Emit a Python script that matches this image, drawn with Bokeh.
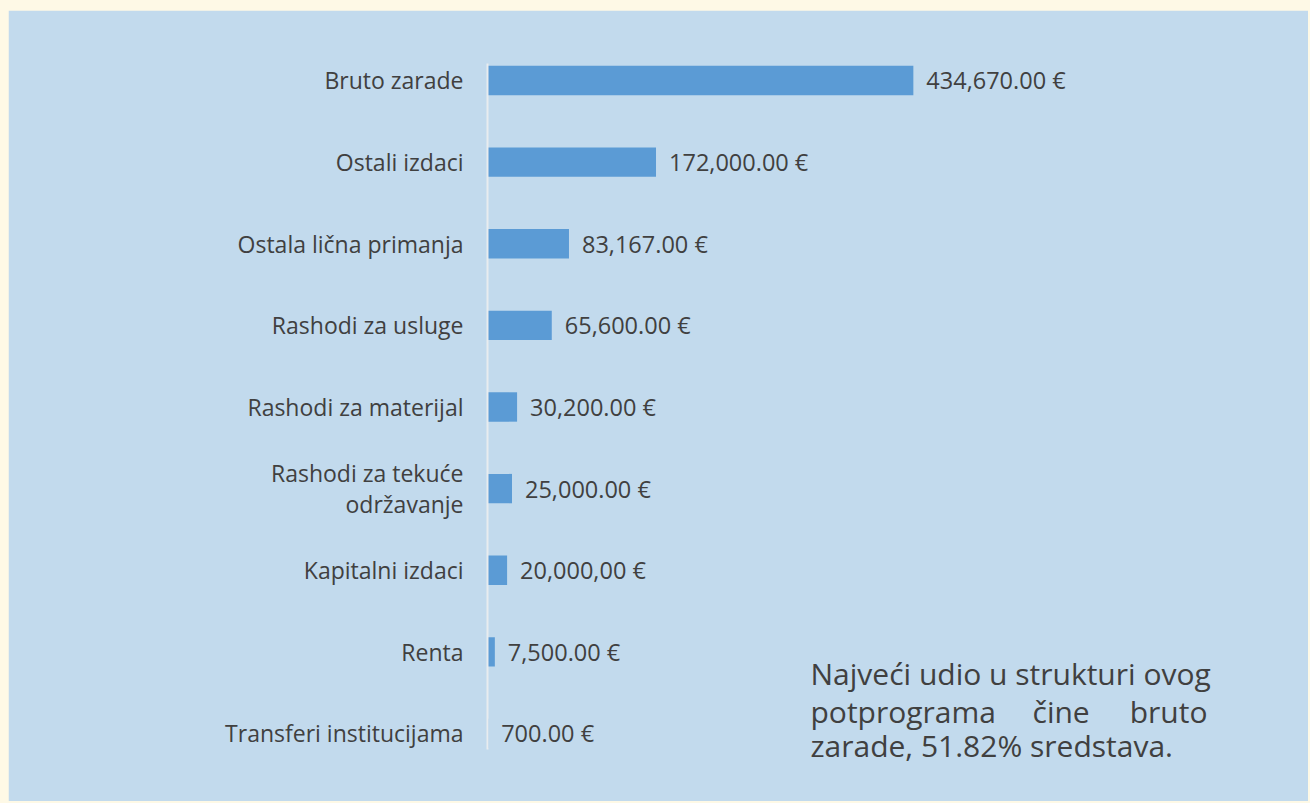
from bokeh.plotting import figure
from bokeh.models import Range1d, FixedTicker, ColumnDataSource, Label
from bokeh.core.properties import value
from bokeh.embed import file_html
from bokeh.resources import INLINE

categories = ["Bruto zarade", "Ostali izdaci", "Ostala lična primanja", "Rashodi za usluge",
              "Rashodi za materijal", "Rashodi za tekuće\nodržavanje", "Kapitalni izdaci",
              "Renta", "Transferi institucijama"]
amounts = [434670, 172000, 83167, 65600, 30200, 25000, 20000, 7500, 700]
value_labels = ["434,670.00 €", "172,000.00 €", "83,167.00 €", "65,600.00 €", "30,200.00 €",
                "25,000.00 €", "20,000,00 €", "7,500.00 €", "700.00 €"]
note_lines = ["Najveći udio u strukturi ovog", "potprograma", "čine", "bruto",
              "zarade, 51.82% sredstava."]

FONT = "Open Sans"
PANEL = "#c2daed"
CREAM = "#fef9e6"
TXT = "#404040"
BAR = "#5b9bd5"

pos = list(range(len(categories)))
src = ColumnDataSource(dict(y=pos, v=amounts, lab=value_labels))

W, H = 1300, 791
p = figure(width=W, height=H, output_backend="svg", toolbar_location=None,
           x_range=Range1d(0, 838000), y_range=Range1d(8.76, -0.208),
           min_border_left=479, min_border_right=0, min_border_top=53, min_border_bottom=6)
p.background_fill_color = PANEL
p.border_fill_color = PANEL
p.outline_line_color = PANEL
p.outline_line_width = 2
p.xgrid.visible = False
p.ygrid.visible = False
p.xaxis.visible = False

ax = p.yaxis[0]
ax.ticker = FixedTicker(ticks=pos)
ax.bounds = (-0.208, 8.196)
ax.major_label_overrides = {i: c for i, c in zip(pos, categories)}
ax.major_tick_line_color = None
ax.minor_tick_line_color = None
ax.axis_line_color = "#e8ecef"
ax.axis_line_width = 2
ax.major_label_text_font = FONT
ax.major_label_text_font_size = "23px"
ax.major_label_text_line_height = 0.95
ax.major_label_text_color = TXT
ax.major_label_standoff = 18

p.hbar(y="y", left=0, right="v", height=0.36, source=src, fill_color=BAR, line_color=None)
p.text(x="v", y="y", text="lab", source=src, x_offset=13, text_baseline="middle",
       text_align="left", text_font=value(FONT), text_font_size="23.5px", text_color=TXT)

# note paragraph (justified lines)
nx = [329700, 329700, 556300, 734900, 329700]
ny = [7.267, 7.733, 7.733, 7.733, 8.15]
na = ["left", "left", "left", "right", "left"]
for t, x, y, a in zip(note_lines, nx, ny, na):
    p.add_layout(Label(x=x, y=y, text=t, text_align=a, text_baseline="middle",
                       text_font=FONT, text_font_size="30px", text_color=TXT))

html = file_html(p, INLINE)
style = ("<style>html,body{margin:0 !important;padding:0 !important;background:%s !important;}"
         "body{padding:10px 0 0 8px !important;overflow:hidden;}</style>" % CREAM)
html = html.replace("</head>", style + "</head>", 1)
open("out.html", "w").write(html)
